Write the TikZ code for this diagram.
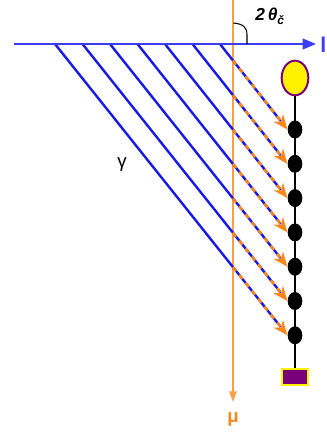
\documentclass[tikz,border=0pt]{standalone}
\usepackage{fontspec}
\setmainfont{Liberation Sans}
\usetikzlibrary{arrows.meta,calc,shapes.geometric}
\definecolor{rayblue}{RGB}{25,25,230}
\definecolor{linblue}{RGB}{60,60,240}
\definecolor{muorange}{RGB}{247,160,70}
\definecolor{dashorange}{RGB}{255,135,25}
\definecolor{pmt}{RGB}{120,0,120}
\tikzset{
  ray/.style={draw=rayblue, line width=1.8pt},
  raydash/.style={draw=dashorange, line width=1.8pt, dash pattern=on 3.8pt off 3.8pt,
    -{Stealth[length=11pt,width=9pt,fill=dashorange]}},
  axisline/.style={draw=linblue, line width=1.5pt, -{Triangle[length=10pt,width=8pt]}},
  muonline/.style={draw=muorange, line width=1.1pt, -{Triangle[length=8pt,width=5.5pt]}},
  dotnode/.style={ellipse, fill=black, minimum width=11pt, minimum height=13.5pt, inner sep=0pt},
  pmnode/.style={ellipse, fill=yellow, draw=pmt, line width=1.5pt, minimum width=20pt, minimum height=26pt, inner sep=0pt},
  basenode/.style={rectangle, fill=pmt, draw=yellow, line width=1.5pt, minimum width=20pt, minimum height=12.5pt, inner sep=0pt},
  chain/.style={draw=black, line width=0.9pt},
  lbl/.style={inner sep=0pt, font=\fontsize{11}{13}\selectfont}
}
\begin{document}
\begin{tikzpicture}[x=0.75pt,y=-0.75pt]
\useasboundingbox[fill=white] (0,0) rectangle (326,432);
% detector string
\node[pmnode] (pm) at (295,78) {};
\node[basenode] (base) at (295,377) {};
\draw[chain] (pm.south) -- (base.north);
\foreach \k in {0,...,6}{
  \node[dotnode] (d\k) at (295,{129.5+34.3*\k}) {};
}
% muon track
\coordinate (mt) at (233,0);
\coordinate (mb) at (233,402);
\draw[muonline] (mt) -- (mb);
\node[lbl, text=dashorange, font=\fontsize{14}{16}\selectfont\bfseries] (mu) at (233,419) {μ};
% rays
\foreach \i in {0,...,6}{
  \pgfmathtruncatemacro\k{6-\i}
  \pgfmathsetmacro\xs{55+27.5*\i}
  \pgfmathsetmacro\tt{(233-\xs)/(287.5-\xs)}
  \coordinate (s\i) at (\xs,44);
  \draw[ray, shorten >=8pt] (s\i) -- (d\k.west);
  \draw[raydash] ($(s\i)!\tt!(d\k.west)$) -- (d\k.west);
}
% horizontal axis
\coordinate (hl) at (14,44);
\coordinate (hr) at (316,44);
\draw[axisline] (hl) -- (hr);
\node[lbl, anchor=west, text=linblue, font=\fontsize{16}{18}\selectfont\bfseries] (ax) at (320,45) {l};
% angle
\coordinate (a1) at (233.5,23);
\coordinate (a2) at (247,44);
\draw[black, line width=0.8pt] (a1) .. controls (243,24) and (247,27) .. (247,35) -- (a2);
\node[lbl, anchor=base west, font=\fontsize{13}{15}\selectfont\bfseries\itshape] (th) at (255,21) {2\,θ\raisebox{-0.35ex}{\fontsize{9}{10}\selectfont č}};
% gamma label
\node[lbl, font=\fontsize{14}{16}\selectfont] (g) at (122,164) {γ};
\end{tikzpicture}
\end{document}
